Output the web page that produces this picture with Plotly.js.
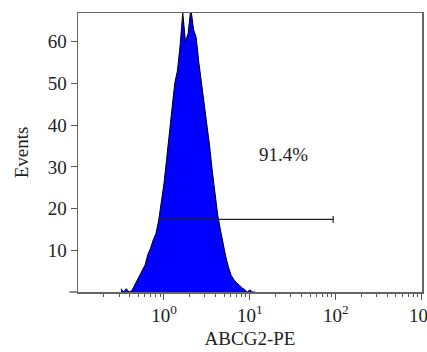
<!DOCTYPE html>
<html>
<head>
<meta charset="utf-8">
<script src="https://cdn.plot.ly/plotly-3.0.1.min.js"></script>
<style>html,body{margin:0;padding:0;background:#fff;}#chart{width:427px;height:352px;}</style>
</head>
<body>
<div id="chart"></div>
<script>
// Fluorescence channel centres (ABCG2-PE, linear units) and event counts
var channels = [0.316,0.340,0.365,0.392,0.422,0.453,0.487,0.523,0.562,0.604,
                0.649,0.698,0.750,0.806,0.866,0.931,1.000,1.075,1.155,1.241,
                1.334,1.433,1.540,1.655,1.778,1.911,2.054,2.207,2.371,2.548,
                2.738,2.943,3.162,3.398,3.652,3.924,4.217,4.532,4.870,5.233,
                5.623,6.043,6.494,6.978,7.499,8.058,8.660,9.306,10.00,10.75,11.55];
var events = [0.8,0,0.8,0,0.3,1.5,2.5,3.8,5,6.5,
              9,10.5,12.5,14,17,21.5,26,32,38,45,
              50,53,59,67,60,62,68,63,61,55,
              50,45,41,35,29,23,18.5,15,11.5,8.5,
              6,4,3,2.2,1.7,1,0.6,0,0.5,0,0];
var yTicks = [10,20,30,40,50,60];
var xTickVals = [1,10,100,1000];
var xTickText = ['10<sup>0</sup>','10<sup>1</sup>','10<sup>2</sup>','10<sup>3</sup>'];
var gateStart = 0.89, gateEnd = 93, gateLevel = 17.4;
var gateLabel = '91.4%';
var xTitle = 'ABCG2-PE', yTitle = 'Events';

var minorVals = [];
[0.1,1,10,100].forEach(function(d){ for (var m=2;m<=9;m++) minorVals.push(d*m); });

var font = {family:'Liberation Serif, Times New Roman, serif', size:19, color:'#222'};

var traces = [
  {x: channels, y: events, type:'scatter', mode:'lines', line:{shape:'linear', color:'#000', width:1},
   fill:'tozeroy', fillcolor:'#0000ff', hoverinfo:'skip'},
  {x:[gateStart, gateEnd], y:[gateLevel, gateLevel], type:'scatter', mode:'lines',
   line:{color:'#222', width:1.2}, hoverinfo:'skip'},
  {x:[gateEnd, gateEnd], y:[gateLevel-0.8, gateLevel+0.8], type:'scatter', mode:'lines',
   line:{color:'#222', width:1.2}, hoverinfo:'skip'}
];

var layout = {
  width:427, height:352,
  margin:{l:78, r:5, t:13, b:60},
  paper_bgcolor:'#fff', plot_bgcolor:'#fff',
  showlegend:false,
  font: font,
  xaxis:{type:'log', range:[-1,3.002], tickmode:'array', tickvals:xTickVals, ticktext:xTickText,
         ticklabeloverflow:'allow',
         ticks:'outside', ticklen:6, tickcolor:'#555', tickwidth:1,
         minor:{tickmode:'array', tickvals:minorVals, ticks:'outside', ticklen:3, tickcolor:'#555', tickwidth:1, showgrid:false},
         showline:true, linecolor:'#666', linewidth:1.5, mirror:true, showgrid:false, zeroline:false,
         tickfont:font, title:{text:xTitle, font:font, standoff:6}},
  yaxis:{range:[0,66.9], tickmode:'array', tickvals:yTicks, ticks:'outside', ticklen:6,
         tickcolor:'#555', tickwidth:1,
         showline:true, linecolor:'#666', linewidth:1.5, mirror:true, showgrid:false, zeroline:false,
         tickfont:font, title:{text:yTitle, font:font, standoff:14}},
  annotations:[{x:1.39, y:32.9, xref:'x', yref:'y', text:gateLabel, showarrow:false, font:font}],
  shapes:[{type:'line', xref:'paper', yref:'paper', x0:-0.025, x1:0, y0:0, y1:0, line:{color:'#666', width:1.5}}]
};

Plotly.newPlot('chart', traces, layout, {staticPlot:true, displayModeBar:false});
</script>
</body>
</html>
